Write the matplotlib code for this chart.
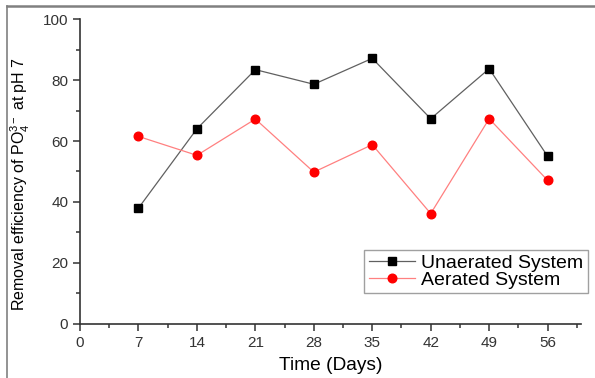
import matplotlib
matplotlib.use('Agg')
import matplotlib.pyplot as plt
from matplotlib.lines import Line2D
from matplotlib.ticker import MultipleLocator

plt.rcParams['font.family'] = ['Liberation Sans', 'DejaVu Sans']
plt.rcParams['mathtext.fontset'] = 'custom'
plt.rcParams['mathtext.rm'] = 'Liberation Sans'
plt.rcParams['mathtext.it'] = 'Liberation Sans'

days = [7, 14, 21, 28, 35, 42, 49, 56]
unaerated = [38.0, 64.0, 83.4, 78.6, 87.1, 67.3, 83.7, 55.0]
aerated = [61.5, 55.3, 67.2, 49.8, 58.8, 36.2, 67.3, 47.1]
xticks = [0, 7, 14, 21, 28, 35, 42, 49, 56]

fig = plt.figure(figsize=(5.95, 3.78), dpi=100)
ax = fig.add_axes([0.1345, 0.1429, 0.842, 0.8068])

ax.plot(days, unaerated, color='#606060', lw=0.9, marker='s', ms=5.4,
        mfc='black', mec='black', label='Unaerated System')
ax.plot(days, aerated, color='#ff8080', lw=0.9, marker='o', ms=6.2,
        mfc='red', mec='red', label='Aerated System')

ax.set_xlim(0, 60)
ax.set_ylim(0, 100)
ax.set_xticks(xticks)
ax.xaxis.set_minor_locator(MultipleLocator(3.5))
ax.yaxis.set_major_locator(MultipleLocator(20))
ax.yaxis.set_minor_locator(MultipleLocator(10))
for s in ['top', 'right']:
    ax.spines[s].set_visible(False)
for s in ['left', 'bottom']:
    ax.spines[s].set_linewidth(1.2)
    ax.spines[s].set_color('#333333')
ax.tick_params(which='major', length=5, width=1.1, labelsize=11, colors='#333333')
ax.tick_params(which='minor', length=3, width=1.1, colors='#333333')

ax.set_xlabel('Time (Days)', fontsize=13.8)
ax.set_ylabel('Removal efficiency of PO$_4^{3-}$ at pH 7', fontsize=11.5)
ax.xaxis.set_label_coords(0.5, -0.108)
ax.yaxis.set_label_coords(-0.096, 0.459)

leg = ax.legend(loc='lower right', bbox_to_anchor=(1.013, 0.1), fontsize=14,
                frameon=True, fancybox=False, edgecolor='#888888',
                handlelength=2.4, borderpad=0.22, labelspacing=0.0,
                handletextpad=0.3, borderaxespad=0)
leg.get_frame().set_linewidth(1.0)

# outer frame lines along the top and left edge
fig.add_artist(Line2D([7 / 595, 1.0], [1 - 5.5 / 378, 1 - 5.5 / 378],
                      transform=fig.transFigure, color='#808080', lw=1.8))
fig.add_artist(Line2D([7 / 595, 7 / 595], [0, 1 - 5.5 / 378],
                      transform=fig.transFigure, color='#808080', lw=1.2))

fig.savefig('out.png', dpi=100)
